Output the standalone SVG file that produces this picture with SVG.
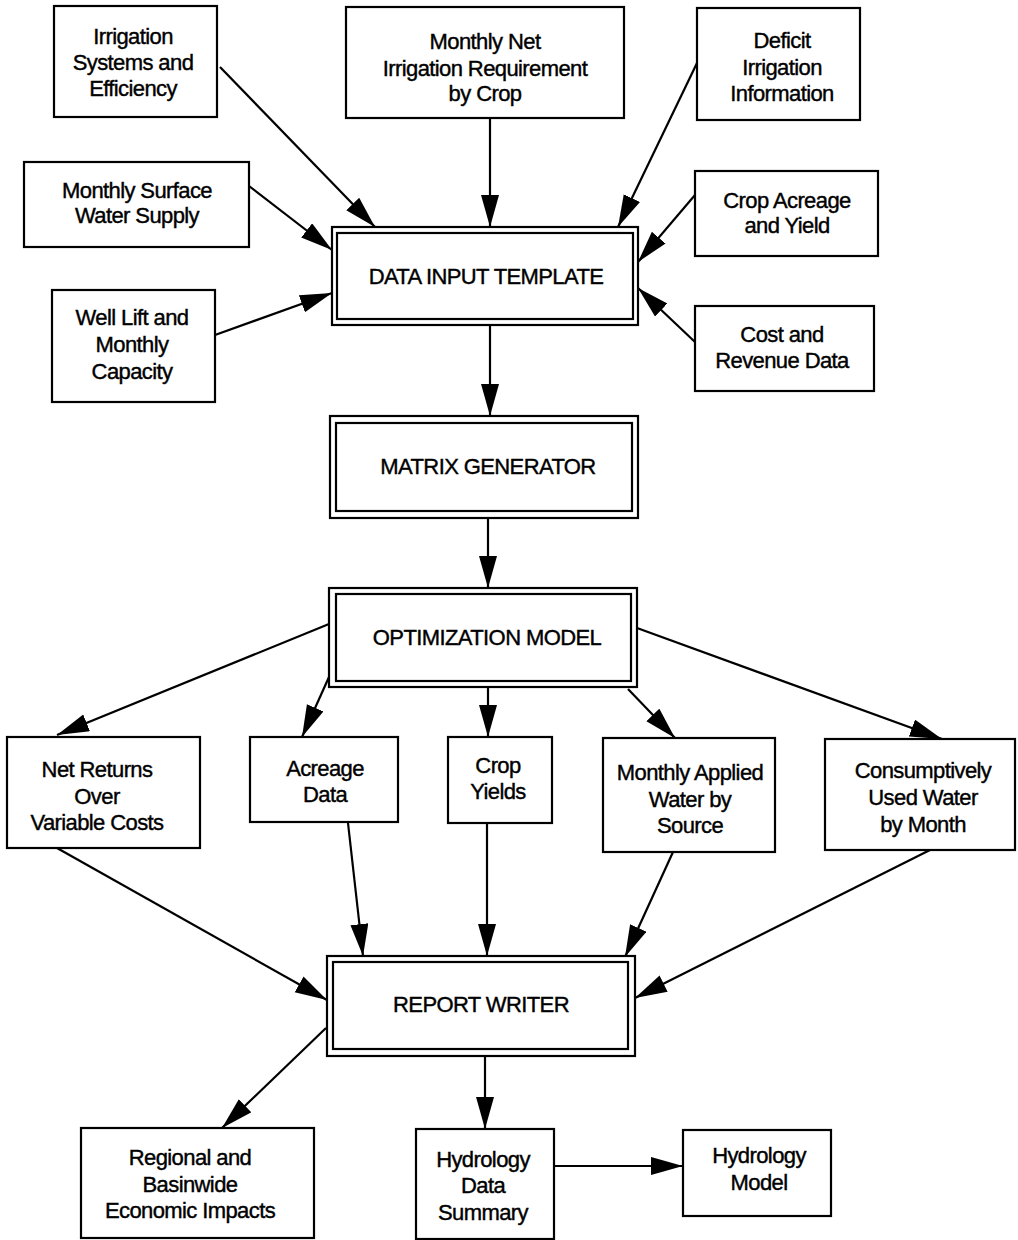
<svg xmlns="http://www.w3.org/2000/svg" width="1018" height="1240" viewBox="0 0 1018 1240">
<style>
.box{fill:#fff;stroke:#000;stroke-width:2.2}
.t{font-family:"Liberation Sans",Arial,sans-serif;font-size:22px;letter-spacing:-0.6px;fill:#000;stroke:#000;stroke-width:0.4;text-anchor:middle}
.c{stroke:#000;stroke-width:2.2;fill:none;marker-end:url(#ah)}
</style>
<defs>
<marker id="ah" markerUnits="userSpaceOnUse" markerWidth="34" markerHeight="20" refX="32" refY="9" orient="auto" viewBox="0 0 34 20">
<path d="M0,0 L32,9 L0,18 z" fill="#000"/>
</marker>
</defs>
<rect width="1018" height="1240" fill="#fff"/>
<g id="connectors">
<line class="c" x1="220" y1="67" x2="375" y2="227"/>
<line class="c" x1="490" y1="118" x2="490" y2="227"/>
<line class="c" x1="697" y1="63" x2="618" y2="227"/>
<line class="c" x1="249" y1="186" x2="332" y2="250"/>
<line class="c" x1="695" y1="195" x2="638" y2="262"/>
<line class="c" x1="215" y1="335" x2="332" y2="293"/>
<line class="c" x1="695" y1="342" x2="638" y2="288"/>
<line class="c" x1="490" y1="325" x2="490" y2="416"/>
<line class="c" x1="488" y1="518" x2="488" y2="588"/>
<line class="c" x1="329" y1="624" x2="57" y2="735"/>
<line class="c" x1="329" y1="677" x2="302" y2="737"/>
<line class="c" x1="488" y1="687" x2="488" y2="737"/>
<line class="c" x1="628" y1="689" x2="675" y2="738"/>
<line class="c" x1="637" y1="628" x2="942" y2="739"/>
<line class="c" x1="57" y1="848" x2="327" y2="1000"/>
<line class="c" x1="348" y1="823" x2="363" y2="956"/>
<line class="c" x1="487" y1="823" x2="487" y2="956"/>
<line class="c" x1="673" y1="852" x2="625" y2="957"/>
<line class="c" x1="930" y1="850" x2="635" y2="998"/>
<line class="c" x1="326" y1="1028" x2="222" y2="1128"/>
<line class="c" x1="485" y1="1056" x2="485" y2="1129"/>
<line class="c" x1="554" y1="1166" x2="683" y2="1166"/>
</g>
<g id="irrigation-systems">
<rect class="box" x="54" y="6" width="163" height="111"/>
<text class="t" x="133" y="44">Irrigation</text>
<text class="t" x="133" y="70">Systems and</text>
<text class="t" x="133" y="96">Efficiency</text>
</g>
<g id="monthly-net">
<rect class="box" x="346" y="7" width="278" height="111"/>
<text class="t" x="485" y="49">Monthly Net</text>
<text class="t" x="485" y="76">Irrigation Requirement</text>
<text class="t" x="485" y="101">by Crop</text>
</g>
<g id="deficit">
<rect class="box" x="697" y="8" width="163" height="112"/>
<text class="t" x="782" y="48">Deficit</text>
<text class="t" x="782" y="75">Irrigation</text>
<text class="t" x="782" y="101">Information</text>
</g>
<g id="surface-water">
<rect class="box" x="24" y="162" width="225" height="85"/>
<text class="t" x="137" y="198">Monthly Surface</text>
<text class="t" x="137" y="223">Water Supply</text>
</g>
<g id="crop-acreage">
<rect class="box" x="695" y="171" width="183" height="85"/>
<text class="t" x="787" y="208">Crop Acreage</text>
<text class="t" x="787" y="233">and Yield</text>
</g>
<g id="data-input-template">
<rect class="box" x="332" y="227" width="306" height="98"/>
<rect class="box" x="337" y="233" width="296" height="86"/>
<text class="t" x="486" y="284">DATA INPUT TEMPLATE</text>
</g>
<g id="well-lift">
<rect class="box" x="52" y="290" width="163" height="112"/>
<text class="t" x="132" y="325">Well Lift and</text>
<text class="t" x="132" y="352">Monthly</text>
<text class="t" x="132" y="379">Capacity</text>
</g>
<g id="cost-revenue">
<rect class="box" x="695" y="306" width="179" height="85"/>
<text class="t" x="782" y="342">Cost and</text>
<text class="t" x="782" y="368">Revenue Data</text>
</g>
<g id="matrix-generator">
<rect class="box" x="330" y="416" width="308" height="102"/>
<rect class="box" x="336" y="423" width="296" height="88"/>
<text class="t" x="488" y="474">MATRIX GENERATOR</text>
</g>
<g id="optimization-model">
<rect class="box" x="329" y="588" width="308" height="99"/>
<rect class="box" x="336" y="594" width="295" height="87"/>
<text class="t" x="487" y="645">OPTIMIZATION MODEL</text>
</g>
<g id="net-returns">
<rect class="box" x="7" y="737" width="193" height="111"/>
<text class="t" x="97" y="777">Net Returns</text>
<text class="t" x="97" y="804">Over</text>
<text class="t" x="97" y="830">Variable Costs</text>
</g>
<g id="acreage-data">
<rect class="box" x="250" y="737" width="148" height="85"/>
<text class="t" x="325" y="776">Acreage</text>
<text class="t" x="325" y="802">Data</text>
</g>
<g id="crop-yields">
<rect class="box" x="448" y="737" width="104" height="86"/>
<text class="t" x="498" y="773">Crop</text>
<text class="t" x="498" y="799">Yields</text>
</g>
<g id="monthly-applied">
<rect class="box" x="603" y="738" width="172" height="114"/>
<text class="t" x="690" y="780">Monthly Applied</text>
<text class="t" x="690" y="807">Water by</text>
<text class="t" x="690" y="833">Source</text>
</g>
<g id="consumptively-used">
<rect class="box" x="825" y="739" width="190" height="111"/>
<text class="t" x="923" y="778">Consumptively</text>
<text class="t" x="923" y="805">Used Water</text>
<text class="t" x="923" y="832">by Month</text>
</g>
<g id="report-writer">
<rect class="box" x="327" y="956" width="308" height="100"/>
<rect class="box" x="333" y="962" width="295" height="87"/>
<text class="t" x="481" y="1012">REPORT WRITER</text>
</g>
<g id="regional-impacts">
<rect class="box" x="81" y="1128" width="233" height="110"/>
<text class="t" x="190" y="1165">Regional and</text>
<text class="t" x="190" y="1192">Basinwide</text>
<text class="t" x="190" y="1218">Economic Impacts</text>
</g>
<g id="hydrology-data-summary">
<rect class="box" x="416" y="1129" width="138" height="110"/>
<text class="t" x="483" y="1167">Hydrology</text>
<text class="t" x="483" y="1193">Data</text>
<text class="t" x="483" y="1220">Summary</text>
</g>
<g id="hydrology-model">
<rect class="box" x="683" y="1130" width="148" height="86"/>
<text class="t" x="759" y="1163">Hydrology</text>
<text class="t" x="759" y="1190">Model</text>
</g>
</svg>
